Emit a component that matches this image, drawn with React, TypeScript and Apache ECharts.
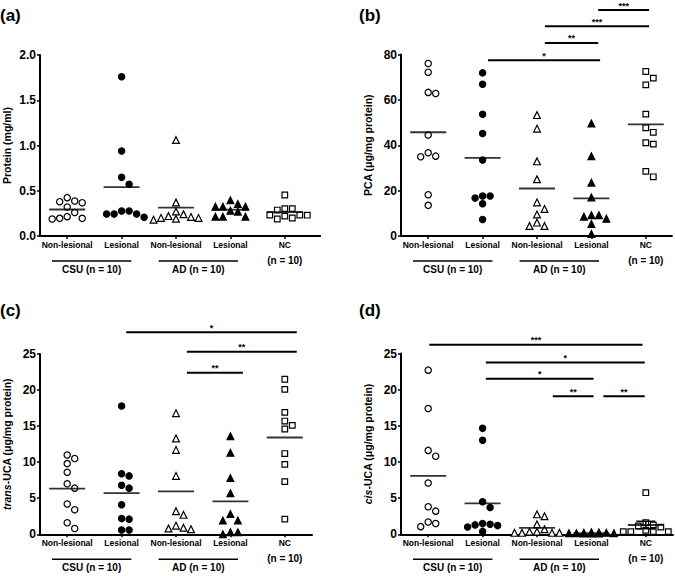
import React, { useEffect, useRef } from "react";
import * as echarts from "echarts";

// ---------- data ----------
const categories = ["Non-lesional", "Lesional", "Non-lesional", "Lesional", "NC"];
const groupLabels = ["CSU (n = 10)", "AD (n = 10)", "(n = 10)"];
const groupSpans = [[0.72, 2.18], [2.68, 4.14], [5, 5]];
const panelLetters = ["(a)", "(b)", "(c)", "(d)"];

// (a) Protein (mg/ml)
const proteinCsuNL = [0.424, 0.387, 0.379, 0.368, 0.32, 0.26, 0.214, 0.195, 0.195, 0.188];
const proteinCsuL = [1.76, 0.94, 0.648, 0.571, 0.276, 0.276, 0.243, 0.243, 0.243, 0.207];
const proteinAdNL = [1.06, 0.37, 0.27, 0.24, 0.22, 0.21, 0.2, 0.2, 0.19, 0.18];
const proteinAdL = [0.394, 0.353, 0.324, 0.324, 0.324, 0.28, 0.269, 0.213, 0.213, 0.213];
const proteinNC = [0.453, 0.302, 0.302, 0.287, 0.232, 0.232, 0.23, 0.22, 0.199, 0.188];

// (b) PCA (ug/mg protein)
const pcaCsuNL = [76.0, 72.2, 63.3, 62.8, 44.5, 36.7, 35.2, 34.9, 18.2, 13.5];
const pcaCsuL = [71.9, 66.9, 53.7, 45.2, 33.5, 17.6, 17.6, 16.7, 14.2, 7.3];
const pcaAdNL = [53.3, 47.3, 32.9, 25.0, 14.8, 11.9, 9.5, 5.9, 4.4, 4.4];
const pcaAdL = [49.6, 35.2, 23.5, 17.0, 9.2, 9.2, 8.5, 7.6, 5.3, 0.9];
const pcaNC = [72.5, 69.6, 66.6, 53.7, 47.7, 45.7, 41.1, 40.5, 28.5, 26.1];
const pcaSig = [[2.1, 4.16, 77.5], [3.145, 4.125, 85.1], [3.145, 5.06, 92.5], [4.125, 5.06, 99.6]];
const pcaStars = ["*", "**", "***", "***"];

// (c) trans-UCA (ug/mg protein)
const transCsuNL = [11.0, 10.5, 9.8, 8.6, 7.0, 6.4, 4.2, 3.4, 1.6, 0.8];
const transCsuL = [17.8, 8.4, 8.1, 6.8, 6.4, 4.1, 2.2, 2.1, 0.6, 0.6];
const transAdNL = [16.8, 13.3, 11.7, 8.1, 3.2, 2.7, 1.2, 0.9, 0.8, 0.7];
const transAdL = [13.6, 11.3, 7.8, 5.7, 2.8, 1.9, 1.9, 0.3, 0.3, 0.0];
const transNC = [21.5, 20.1, 16.9, 15.7, 15.1, 14.6, 11.2, 9.7, 7.3, 2.1];
const transSig = [[2.085, 5.22, 28.0], [3.2, 5.22, 25.3], [3.2, 4.23, 22.4]];
const transStars = ["*", "**", "**"];

// (d) cis-UCA (ug/mg protein)
const cisCsuNL = [22.7, 17.4, 11.6, 10.8, 7.1, 3.8, 3.2, 1.7, 1.5, 1.06];
const cisCsuL = [14.65, 13.0, 4.5, 3.7, 1.5, 1.4, 1.3, 1.2, 1.0, 0.4];
const cisAdNL = [2.76, 2.5, 1.38, 0.7, 0.37, 0.37, 0.2, 0.2, 0.2, 0.2];
const cisAdL = [0.3, 0.25, 0.2, 0.2, 0.15, 0.15, 0.15, 0.1, 0.1, 0.1];
const cisNC = [5.75, 1.6, 1.3, 1.15, 1.0, 0.55, 0.37, 0.37, 0.37, 0.37];
const cisSig = [[1.02, 4.94, 26.2], [2.06, 4.98, 23.75], [2.06, 4.04, 21.5], [3.29, 4.04, 19.1], [4.22, 4.98, 19.1]];
const cisStars = ["***", "*", "*", "**", "**"];

// ---------- layout / style ----------
const FONT = "'Liberation Sans', Arial, sans-serif";
const SPACING = 54.4; // px per category
const STEP = 7.5; // swarm step px
const DIAM = 7.0;

type Panel = {
  groups: number[][];
  sig: number[][];
  stars: string[];
  yMax: number;
  yInterval: number;
  yDecimals: number;
  name: string;
  left: number;
  top: number;
  bottom: number;
  xMax: number;
  sem?: boolean;
};

const panels: Panel[] = [
  {
    groups: [proteinCsuNL, proteinCsuL, proteinAdNL, proteinAdL, proteinNC],
    sig: [], stars: [], yMax: 2, yInterval: 0.5, yDecimals: 1,
    name: "{n|Protein (mg/ml)}",
    left: 40, top: 55, bottom: 236, xMax: 5.65,
  },
  {
    groups: [pcaCsuNL, pcaCsuL, pcaAdNL, pcaAdL, pcaNC],
    sig: pcaSig, stars: pcaStars, yMax: 80, yInterval: 20, yDecimals: 0,
    name: "{n|PCA (μg/mg protein)}",
    left: 401, top: 54.5, bottom: 236, xMax: 5.48,
  },
  {
    groups: [transCsuNL, transCsuL, transAdNL, transAdL, transNC],
    sig: transSig, stars: transStars, yMax: 25, yInterval: 5, yDecimals: 0,
    name: "{i|trans}{n|-UCA (μg/mg protein)}",
    left: 40, top: 354, bottom: 534.3, xMax: 5.5,
  },
  {
    groups: [cisCsuNL, cisCsuL, cisAdNL, cisAdL, cisNC],
    sig: cisSig, stars: cisStars, yMax: 25, yInterval: 5, yDecimals: 0,
    name: "{i|cis}{n|-UCA (μg/mg protein)}",
    left: 401, top: 353.5, bottom: 534.3, xMax: 5.5, sem: true,
  },
];

const markerStyles = [
  { symbol: "circle", size: 6.3, fill: "#fff" },
  { symbol: "circle", size: 6.3, fill: "#000" },
  { symbol: "triangle", size: 6.8, fill: "#fff" },
  { symbol: "triangle", size: 6.8, fill: "#000" },
  { symbol: "rect", size: 5.6, fill: "#fff" },
];

function swarm(values: number[], pxY: number, maxK = 3): number[] {
  const order = values.map((_, i) => i).sort((a, b) => values[b] - values[a]);
  const ks = [0];
  for (let j = 1; j <= maxK; j++) ks.push(j, -j);
  const placed: { k: number; y: number }[] = [];
  const out = new Array(values.length).fill(0);
  for (const i of order) {
    const y = values[i] * pxY;
    let best = 0;
    let bestD = -1;
    for (const k of ks) {
      let minD = Infinity;
      for (const p of placed) {
        const d = Math.hypot((k - p.k) * STEP, y - p.y);
        if (d < minD) minD = d;
      }
      if (minD >= DIAM) { best = k; break; }
      if (minD > bestD) { bestD = minD; best = k; }
    }
    placed.push({ k: best, y });
    out[i] = best;
  }
  return out;
}

const mean = (a: number[]) => a.reduce((s, v) => s + v, 0) / a.length;
const sem = (a: number[]) => {
  const m = mean(a);
  const sd = Math.sqrt(a.reduce((s, v) => s + (v - m) * (v - m), 0) / (a.length - 1));
  return sd / Math.sqrt(a.length);
};

function buildOption() {
  const grid: any[] = [];
  const xAxis: any[] = [];
  const yAxis: any[] = [];
  const series: any[] = [];
  const title: any[] = [];
  const textBase = { fontFamily: FONT, fontWeight: "bold", color: "#000" };

  panels.forEach((p, pi) => {
    const width = (p.xMax - 0.5) * SPACING;
    const height = p.bottom - p.top;
    grid.push({ left: p.left, top: p.top, width, height, containLabel: false });
    title.push({
      text: panelLetters[pi],
      left: pi % 2 === 0 ? 0 : 359,
      top: pi < 2 ? 7 : 302,
      padding: 0,
      textStyle: { ...textBase, fontSize: 17 },
    });
    xAxis.push({
      type: "value",
      gridIndex: pi,
      min: 0.5,
      max: p.xMax,
      splitLine: { show: false },
      axisLine: { show: true, onZero: false, lineStyle: { color: "#000", width: 2 } },
      axisTick: { show: true, customValues: [1, 2, 3, 4, 5], length: 3, lineStyle: { color: "#000", width: 1.5 } },
      axisLabel: {
        show: true,
        customValues: [1, 2, 3, 4, 5],
        formatter: (v: number) => categories[Math.round(v) - 1] || "",
        ...textBase,
        fontSize: 8.5,
        margin: 4,
      },
    });
    yAxis.push({
      type: "value",
      gridIndex: pi,
      min: 0,
      max: p.yMax,
      interval: p.yInterval,
      splitLine: { show: false },
      axisLine: { show: true, lineStyle: { color: "#000", width: 2 } },
      axisTick: { show: true, length: 3, lineStyle: { color: "#000", width: 1.5 } },
      axisLabel: {
        ...textBase,
        fontSize: 12,
        margin: 4,
        formatter: (v: number) => v.toFixed(p.yDecimals),
      },
      name: p.name,
      nameLocation: "middle",
      nameGap: 28,
      nameTextStyle: {
        ...textBase,
        fontSize: 10.5,
        rich: {
          n: { ...textBase, fontSize: 10.5 },
          i: { ...textBase, fontSize: 10.5, fontStyle: "italic" },
        },
      },
    });

    const pxY = height / p.yMax;
    p.groups.forEach((vals, gi) => {
      const offs = swarm(vals, pxY);
      const ms = markerStyles[gi];
      series.push({
        type: "scatter",
        xAxisIndex: pi,
        yAxisIndex: pi,
        symbol: ms.symbol,
        symbolSize: ms.size,
        itemStyle: { color: ms.fill, borderColor: "#000", borderWidth: 1.2, opacity: 1 },
        data: vals.map((v, i) => [gi + 1 + (offs[i] * STEP) / SPACING, v]),
        z: 3,
      });
    });
    // mean lines
    series.push({
      type: "scatter",
      xAxisIndex: pi,
      yAxisIndex: pi,
      symbol: "rect",
      symbolSize: [36, 1.8],
      itemStyle: { color: "#000" },
      data: p.groups.map((vals, gi) => [gi + 1, mean(vals)]),
      z: 4,
    });
    // SEM bar for NC in panel d
    if (p.sem) {
      const nc = p.groups[4];
      const m = mean(nc);
      const s = sem(nc);
      series.push({
        type: "custom",
        xAxisIndex: pi,
        yAxisIndex: pi,
        clip: false,
        data: [[5, m - s, m + s]],
        renderItem: (_params: any, api: any) => {
          const x = api.value(0);
          const lo = api.coord([x, api.value(1)]);
          const hi = api.coord([x, api.value(2)]);
          const st = { stroke: "#000", lineWidth: 1.5 };
          return {
            type: "group",
            children: [
              { type: "line", shape: { x1: lo[0], y1: lo[1], x2: hi[0], y2: hi[1] }, style: st },
              { type: "line", shape: { x1: hi[0] - 9.5, y1: hi[1], x2: hi[0] + 9.5, y2: hi[1] }, style: st },
              { type: "line", shape: { x1: lo[0] - 9.5, y1: lo[1], x2: lo[0] + 9.5, y2: lo[1] }, style: st },
            ],
          };
        },
        z: 5,
      });
    }
    // significance bars
    if (p.sig.length) {
      series.push({
        type: "custom",
        xAxisIndex: pi,
        yAxisIndex: pi,
        clip: false,
        data: p.sig.map((s) => [s[0], s[2], s[1]]),
        renderItem: (params: any, api: any) => {
          const a = api.coord([api.value(0), api.value(1)]);
          const b = api.coord([api.value(2), api.value(1)]);
          return {
            type: "group",
            children: [
              { type: "line", shape: { x1: a[0], y1: a[1], x2: b[0], y2: b[1] }, style: { stroke: "#000", lineWidth: 2 } },
              {
                type: "text",
                x: (a[0] + b[0]) / 2,
                y: a[1] - 4.5,
                style: {
                  text: p.stars[params.dataIndex],
                  fontSize: 9,
                  fontWeight: "bold",
                  fontFamily: FONT,
                  fill: "#000",
                  align: "center",
                  verticalAlign: "middle",
                },
              },
            ],
          };
        },
        z: 6,
      });
    }
    // group labels under axis
    series.push({
      type: "custom",
      xAxisIndex: pi,
      yAxisIndex: pi,
      clip: false,
      data: groupSpans.map((g) => [g[0], 0, g[1]]),
      renderItem: (params: any, api: any) => {
        const a = api.coord([api.value(0), api.value(1)]);
        const b = api.coord([api.value(2), api.value(1)]);
        const hasLine = b[0] - a[0] > 1;
        const children: any[] = [];
        if (hasLine) {
          children.push({ type: "line", shape: { x1: a[0], y1: a[1] + 25, x2: b[0], y2: a[1] + 25 }, style: { stroke: "#000", lineWidth: 1.5 } });
        }
        children.push({
          type: "text",
          x: (a[0] + b[0]) / 2,
          y: a[1] + (hasLine ? 33.5 : 24),
          style: {
            text: groupLabels[params.dataIndex],
            fontSize: 10,
            fontWeight: "bold",
            fontFamily: FONT,
            fill: "#000",
            align: "center",
            verticalAlign: "middle",
          },
        });
        return { type: "group", children };
      },
      z: 6,
    });
  });

  return {
    animation: false,
    backgroundColor: "#fff",
    title,
    grid,
    xAxis,
    yAxis,
    series,
  };
}

export default function App() {
  const ref = useRef<HTMLDivElement>(null);
  useEffect(() => {
    if (!ref.current) return;
    const chart = echarts.init(ref.current, undefined, { renderer: "svg" });
    chart.setOption(buildOption() as any);
    return () => chart.dispose();
  }, []);
  return (
    <div
      ref={ref}
      style={{ position: "absolute", left: 0, top: 0, width: 675, height: 576 }}
    />
  );
}
